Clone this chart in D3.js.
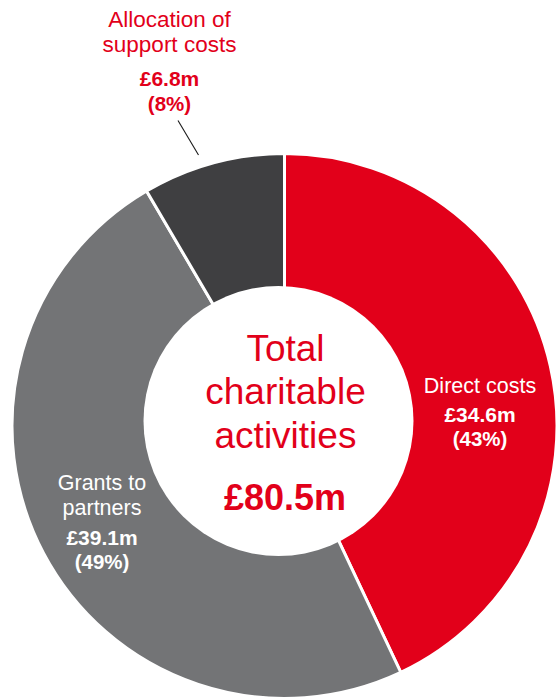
<!DOCTYPE html>
<html>
<head>
<meta charset="utf-8">
<script src="https://cdn.jsdelivr.net/npm/d3@7"></script>
<style>
  html, body { margin: 0; padding: 0; background: #ffffff; }
  svg { display: block; }
  text { font-family: "Liberation Sans", Arial, Helvetica, sans-serif; }
</style>
</head>
<body>
<div id="chart"></div>
<script>
// ---- Data ----
const categories = ["Direct costs", "Grants to partners", "Allocation of support costs"];
const values = [34.6, 39.1, 6.8];           // £m
const percents = [43, 49, 8];              // %
const labelLines = [["Direct costs"], ["Grants to", "partners"], ["Allocation of", "support costs"]];
const colors = ["#E2001A", "#737476", "#3F3F41"];
const centerLines = ["Total", "charitable", "activities"];
const totalLabel = "£80.5m";

// ---- Layout ----
const W = 560, H = 700;
const cx = 284.5, cy = 426, outerR = 272.5;
const holeCx = 278.5, holeCy = 421, holeR = 135;
const labelLayout = [
  { x: 480, y: 393, color: "#ffffff", nameSize: 21.5, valueY: 422, pctY: 446 },
  { x: 102, y: 490, color: "#ffffff", nameSize: 21.5, valueY: 545, pctY: 569 },
  { x: 169.5, y: 27, color: "#E2001A", nameSize: 22.5, valueY: 86, pctY: 111 }
];

const svg = d3.select("#chart").append("svg")
  .attr("width", W).attr("height", H);

const pie = d3.pie().sort(null).value(d => d.value).startAngle(0).endAngle(2 * Math.PI);
const data = categories.map((c, i) => ({ name: c, value: values[i], pct: percents[i], lines: labelLines[i], color: colors[i] }));
const arcs = pie(data);
const arc = d3.arc().innerRadius(0).outerRadius(outerR);

const g = svg.append("g").attr("transform", `translate(${cx},${cy})`);
g.selectAll("path.slice").data(arcs).enter().append("path")
  .attr("class", "slice")
  .attr("d", arc)
  .attr("fill", d => d.data.color)
  .attr("stroke", "#ffffff")
  .attr("stroke-width", 3)
  .attr("stroke-linejoin", "miter");

// hole
svg.append("circle").attr("cx", holeCx).attr("cy", holeCy).attr("r", holeR).attr("fill", "#ffffff");

// leader line for small slice
svg.append("line")
  .attr("x1", 178).attr("y1", 120.5).attr("x2", 198.5).attr("y2", 155)
  .attr("stroke", "#1a1a1a").attr("stroke-width", 1.1);

// slice labels
data.forEach((d, i) => {
  const L = labelLayout[i];
  const t = svg.append("g").attr("fill", L.color).attr("text-anchor", "middle");
  d.lines.forEach((line, j) => {
    t.append("text").attr("x", L.x).attr("y", L.y + j * 24.5)
      .attr("font-size", L.nameSize).attr("font-weight", 400).text(line);
  });
  t.append("text").attr("x", L.x).attr("y", L.valueY)
    .attr("font-size", 21).attr("font-weight", 700).text("£" + d.value.toFixed(1) + "m");
  t.append("text").attr("x", L.x).attr("y", L.pctY)
    .attr("font-size", 20.5).attr("font-weight", 700).text("(" + d.pct + "%)");
});

// center text
const centerY = [361, 404, 448];
const ct = svg.append("g").attr("fill", "#E2001A").attr("text-anchor", "middle");
centerLines.forEach((line, j) => {
  ct.append("text").attr("x", 285.5).attr("y", centerY[j])
    .attr("font-size", 37).attr("font-weight", 400).text(line);
});
ct.append("text").attr("x", 285).attr("y", 510)
  .attr("font-size", 36).attr("font-weight", 700).text(totalLabel);
</script>
</body>
</html>
